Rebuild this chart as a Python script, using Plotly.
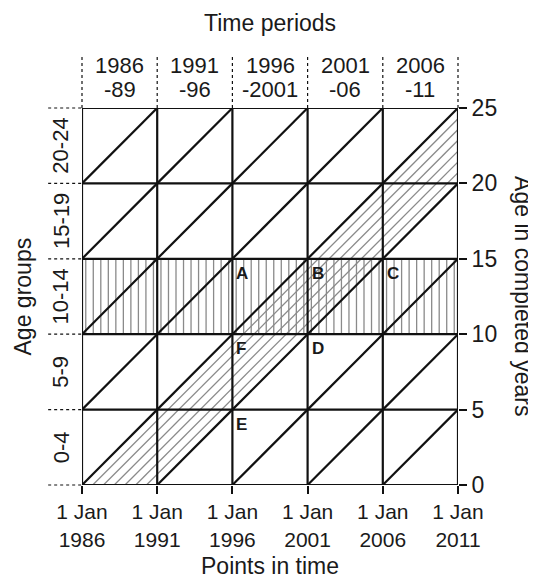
import plotly.graph_objects as go

# ---- data ----
years = [1986, 1991, 1996, 2001, 2006, 2011]
ages = [0, 5, 10, 15, 20, 25]
period_labels = ["1986<br>-89", "1991<br>-96", "1996<br>-2001", "2001<br>-06", "2006<br>-11"]
age_group_labels = ["0-4", "5-9", "10-14", "15-19", "20-24"]
time_tick_labels = ["1 Jan<br>1986", "1 Jan<br>1991", "1 Jan<br>1996",
                    "1 Jan<br>2001", "1 Jan<br>2006", "1 Jan<br>2011"]
age_tick_labels = ["0", "5", "10", "15", "20", "25"]
point_letters = ["A", "B", "C", "D", "E", "F"]
point_years = [1996, 2001, 2006, 2001, 1996, 1996]
point_ages = [15, 15, 15, 10, 5, 10]
age_band = [10, 15]          # age group shaded with vertical hatching
cohort_births = [1986, 1991]  # cohort band shaded with diagonal hatching

FONT = "Liberation Sans, Arial, sans-serif"
TXT = "#1a1a1a"

x0, x1 = years[0], years[-1]
a0, a1 = ages[0], ages[-1]
step = years[1] - years[0]

fig = go.Figure()

# vertical hatching in age band
vx, vy = [], []
n_v = int((x1 - x0) / 0.5)
for k in range(n_v):
    t = x0 + 0.25 + 0.5 * k
    vx += [t, t, None]
    vy += [age_band[0], age_band[1], None]
fig.add_trace(go.Scatter(x=vx, y=vy, mode="lines",
                         line=dict(color="#8a8a8a", width=1.3), hoverinfo="skip"))

# diagonal hatching in cohort band
dx, dy = [], []
n_d = 7
for k in range(1, n_d):
    c = cohort_births[0] + (cohort_births[1] - cohort_births[0]) * k / n_d
    dx += [c, x1, None]
    dy += [a0, x1 - c, None]
fig.add_trace(go.Scatter(x=dx, y=dy, mode="lines",
                         line=dict(color="#8a8a8a", width=1.3), hoverinfo="skip"))

# grid lines: horizontal, vertical, diagonals
gx, gy = [], []
for a in ages:
    gx += [x0, x1, None]
    gy += [a, a, None]
for t in years:
    gx += [t, t, None]
    gy += [a0, a1, None]
for t in years[:-1]:
    for a in ages[:-1]:
        gx += [t, t + step, None]
        gy += [a, a + step, None]
fig.add_trace(go.Scatter(x=gx, y=gy, mode="lines",
                         line=dict(color="#111111", width=2.2), hoverinfo="skip"))

shapes = []
span_x = x1 - x0
span_a = a1 - a0
# dotted vertical lines above plot
for t in years:
    px = (t - x0) / span_x
    shapes.append(dict(type="line", xref="paper", yref="paper",
                       x0=px, x1=px, y0=1.0, y1=1.14,
                       line=dict(color="#111", width=1.2, dash="dot")))
# dotted horizontal lines left of plot
for a in ages:
    py = (a - a0) / span_a
    shapes.append(dict(type="line", xref="paper", yref="paper",
                       x0=-0.09, x1=0.0, y0=py, y1=py,
                       line=dict(color="#111", width=1.2, dash="dot")))

annotations = []
# period labels (two lines each)
for i, lab in enumerate(period_labels):
    mid = (years[i] + years[i + 1]) / 2
    top, bot = lab.split("<br>")
    for txt, yy in ((top, 1.114), (bot, 1.048)):
        annotations.append(dict(x=mid, xref="x", y=yy, yref="paper", text=txt,
                                showarrow=False, yanchor="middle", xanchor="center",
                                font=dict(family=FONT, size=22, color=TXT)))
# age group labels
for i, lab in enumerate(age_group_labels):
    mid = (ages[i] + ages[i + 1]) / 2
    annotations.append(dict(x=-0.056, xref="paper", y=mid, yref="y", text=lab,
                            showarrow=False, textangle=-90,
                            xanchor="center", yanchor="middle",
                            font=dict(family=FONT, size=22, color=TXT)))
# point letters
for L, t, a in zip(point_letters, point_years, point_ages):
    annotations.append(dict(x=t, y=a, xref="x", yref="y", text="<b>%s</b>" % L,
                            showarrow=False, xanchor="left", yanchor="top",
                            xshift=2, yshift=-3,
                            font=dict(family=FONT, size=17, color=TXT)))
# titles
annotations.append(dict(x=0.5, xref="paper", y=1.225, yref="paper", text="Time periods",
                        showarrow=False, yanchor="middle",
                        font=dict(family=FONT, size=23, color=TXT)))
annotations.append(dict(x=0.5, xref="paper", y=-0.215, yref="paper", text="Points in time",
                        showarrow=False, yanchor="middle",
                        font=dict(family=FONT, size=23, color=TXT)))
annotations.append(dict(x=-0.157, xref="paper", y=0.5, yref="paper", text="Age groups",
                        showarrow=False, textangle=-90, xanchor="center", yanchor="middle",
                        font=dict(family=FONT, size=23, color=TXT)))
annotations.append(dict(x=1.173, xref="paper", y=0.501, yref="paper",
                        text="Age in completed years",
                        showarrow=False, textangle=90, xanchor="center", yanchor="middle",
                        font=dict(family=FONT, size=23, color=TXT)))

# page body has an 8px margin, so the figure is sized to the remaining window
fig.update_layout(
    width=528, height=573,
    margin=dict(l=74, r=78, t=100, b=96),
    paper_bgcolor="white", plot_bgcolor="white",
    showlegend=False,
    shapes=shapes, annotations=annotations,
    xaxis=dict(range=[x0, x1], tickvals=years, ticktext=time_tick_labels,
               ticks="outside", ticklen=8, tickwidth=1.5, tickcolor="#111",
               showgrid=False, zeroline=False, showline=False,
               tickfont=dict(family=FONT, size=21, color=TXT), fixedrange=True),
    yaxis=dict(range=[a0, a1], tickvals=ages, ticktext=age_tick_labels, side="right",
               ticks="outside", ticklen=8, tickwidth=1.5, tickcolor="#111",
               showgrid=False, zeroline=False, showline=False,
               tickfont=dict(family=FONT, size=23, color=TXT), fixedrange=True),
)

fig.write_html("out.html")
